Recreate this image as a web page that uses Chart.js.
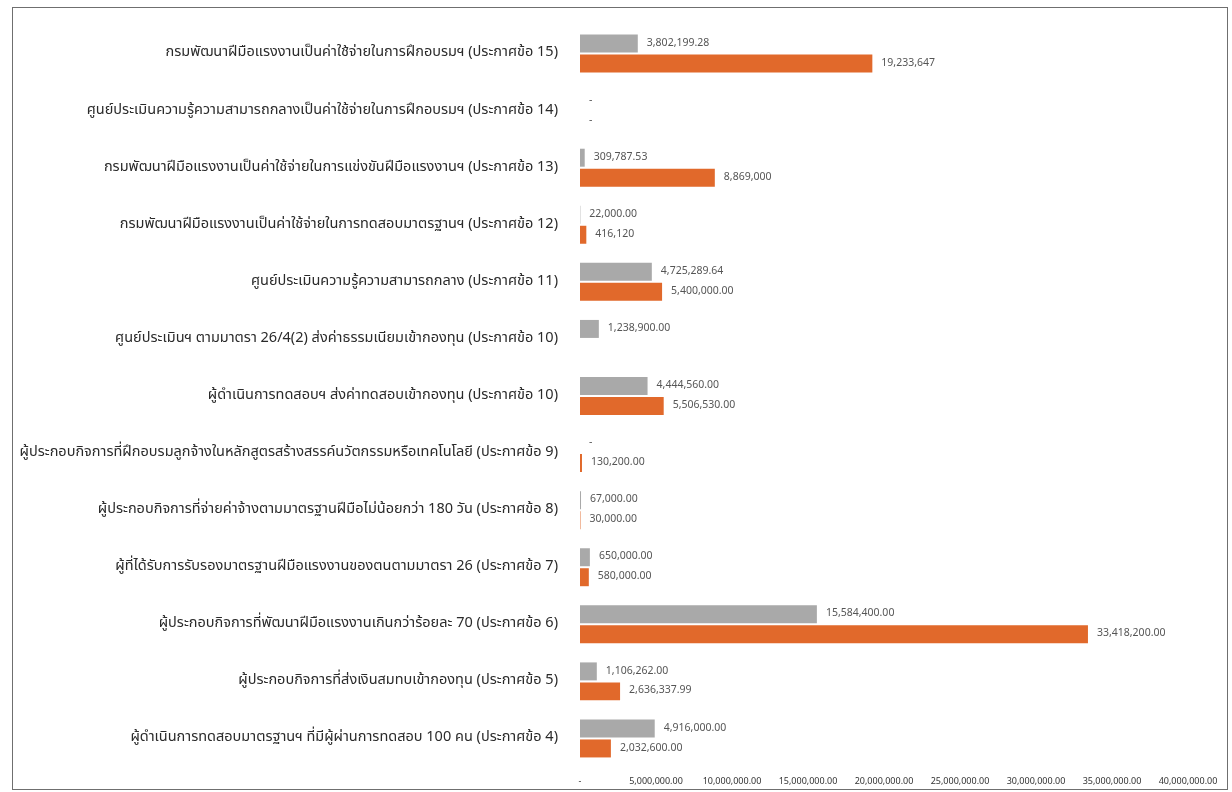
<!DOCTYPE html>
<html>
<head>
<meta charset="utf-8">
<style>
  body { margin: 0; background: #fff; }
  .container { position: relative; width: 1232px; height: 792px; }
  #frame {
    position: absolute; left: 12px; top: 7px; width: 1214px; height: 781px;
    border: 1.5px solid #6f6f6f; pointer-events: none;
  }
</style>
<script src="https://cdn.jsdelivr.net/npm/chart.js"></script>
</head>
<body>
<div class="container">
  <canvas id="myChart" width="1232" height="792"></canvas>
  <div id="frame"></div>
</div>
<script>
// categories, top to bottom
const categories = [
  "กรมพัฒนาฝีมือแรงงานเป็นค่าใช้จ่ายในการฝึกอบรมฯ (ประกาศข้อ 15)",
  "ศูนย์ประเมินความรู้ความสามารถกลางเป็นค่าใช้จ่ายในการฝึกอบรมฯ (ประกาศข้อ 14)",
  "กรมพัฒนาฝีมือแรงงานเป็นค่าใช้จ่ายในการแข่งขันฝีมือแรงงานฯ (ประกาศข้อ 13)",
  "กรมพัฒนาฝีมือแรงงานเป็นค่าใช้จ่ายในการทดสอบมาตรฐานฯ (ประกาศข้อ 12)",
  "ศูนย์ประเมินความรู้ความสามารถกลาง (ประกาศข้อ 11)",
  "ศูนย์ประเมินฯ ตามมาตรา 26/4(2) ส่งค่าธรรมเนียมเข้ากองทุน (ประกาศข้อ 10)",
  "ผู้ดำเนินการทดสอบฯ ส่งค่าทดสอบเข้ากองทุน (ประกาศข้อ 10)",
  "ผู้ประกอบกิจการที่ฝึกอบรมลูกจ้างในหลักสูตรสร้างสรรค์นวัตกรรมหรือเทคโนโลยี (ประกาศข้อ 9)",
  "ผู้ประกอบกิจการที่จ่ายค่าจ้างตามมาตรฐานฝีมือไม่น้อยกว่า 180 วัน (ประกาศข้อ 8)",
  "ผู้ที่ได้รับการรับรองมาตรฐานฝีมือแรงงานของตนตามมาตรา 26 (ประกาศข้อ 7)",
  "ผู้ประกอบกิจการที่พัฒนาฝีมือแรงงานเกินกว่าร้อยละ 70 (ประกาศข้อ 6)",
  "ผู้ประกอบกิจการที่ส่งเงินสมทบเข้ากองทุน (ประกาศข้อ 5)",
  "ผู้ดำเนินการทดสอบมาตรฐานฯ ที่มีผู้ผ่านการทดสอบ 100 คน (ประกาศข้อ 4)"
];

// grey series
const greyValues = [3802199.28, 0, 309787.53, 22000, 4725289.64, 1238900, 4444560, 0, 67000, 650000, 15584400, 1106262, 4916000];
const greyLabels = ["3,802,199.28", "-", "309,787.53", "22,000.00", "4,725,289.64", "1,238,900.00", "4,444,560.00", "-", "67,000.00", "650,000.00", "15,584,400.00", "1,106,262.00", "4,916,000.00"];

// orange series
const orangeValues = [19233647, 0, 8869000, 416120, 5400000, null, 5506530, 130200, 30000, 580000, 33418200, 2636337.99, 2032600];
const orangeLabels = ["19,233,647", "-", "8,869,000", "416,120", "5,400,000.00", null, "5,506,530.00", "130,200.00", "30,000.00", "580,000.00", "33,418,200.00", "2,636,337.99", "2,032,600.00"];

// x axis tick labels (0 .. 40,000,000 step 5,000,000)
const tickLabels = ["-", "5,000,000.00", "10,000,000.00", "15,000,000.00", "20,000,000.00", "25,000,000.00", "30,000,000.00", "35,000,000.00", "40,000,000.00"];

const thaiFont = "Tahoma, 'Noto Sans Thai', 'Leelawadee UI', Loma, Garuda, 'DejaVu Sans', sans-serif";

// draws the value text after the end of each bar
const valueLabels = {
  id: "valueLabels",
  afterDatasetsDraw(chart) {
    const ctx = chart.ctx;
    ctx.save();
    ctx.font = "10.5px " + thaiFont;
    ctx.fillStyle = "#555";
    ctx.textAlign = "left";
    ctx.textBaseline = "middle";
    chart.data.datasets.forEach((ds, i) => {
      const meta = chart.getDatasetMeta(i);
      meta.data.forEach((bar, j) => {
        const txt = ds.valueText[j];
        if (txt == null) return;
        ctx.fillText(txt, bar.x + 9, bar.y);
      });
    });
    ctx.restore();
  }
};

const ctx = document.getElementById("myChart");
Chart.defaults.font.family = thaiFont;

new Chart(ctx, {
  type: "bar",
  data: {
    labels: categories,
    datasets: [
      {
        label: "grey",
        data: greyValues,
        valueText: greyLabels,
        backgroundColor: "#a9a9a9",
        categoryPercentage: 0.7,
        barPercentage: 0.9
      },
      {
        label: "orange",
        data: orangeValues,
        valueText: orangeLabels,
        backgroundColor: "#e1692b",
        categoryPercentage: 0.7,
        barPercentage: 0.9
      }
    ]
  },
  options: {
    indexAxis: "y",
    responsive: false,
    animation: false,
    layout: { padding: { top: 25, right: 44, bottom: 0, left: 0 } },
    plugins: {
      legend: { display: false },
      tooltip: { enabled: false }
    },
    scales: {
      x: {
        min: 0,
        max: 40000000,
        grid: { display: false, drawTicks: false },
        border: { display: false },
        afterFit: (s) => { s.height = 25; },
        ticks: {
          stepSize: 5000000,
          padding: 10,
          maxRotation: 0,
          autoSkip: false,
          color: "#333",
          font: { size: 9 },
          callback: (v, i) => tickLabels[i]
        }
      },
      y: {
        // invisible tick marks give the gap between labels and bars
        grid: { display: true, drawOnChartArea: false, drawTicks: true, tickLength: 22, color: "rgba(0,0,0,0)" },
        border: { display: false },
        afterFit: (s) => { s.width = 580; },
        ticks: {
          padding: 0,
          autoSkip: false,
          color: "#2a2a2a",
          font: { size: 14.5 }
        }
      }
    }
  },
  plugins: [valueLabels]
});
</script>
</body>
</html>
